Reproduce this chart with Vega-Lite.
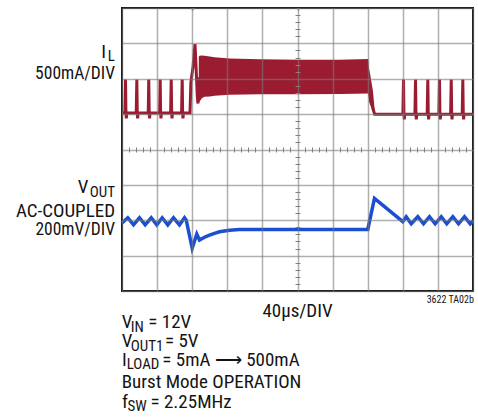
{
  "$schema": "https://vega.github.io/schema/vega-lite/v6.json",
  "width": 351,
  "height": 283,
  "autosize": {"type": "none"},
  "padding": {"left": 122, "top": 8, "right": 5, "bottom": 129},
  "background": "white",
  "config": {
    "view": {"stroke": "#111111", "strokeWidth": 2},
    "text": {"font": "Roboto Condensed, Liberation Sans, sans-serif", "fontSize": 19, "baseline": "alphabetic", "color": "#141414"}
  },
  "data": {"values": [{}]},
  "datasets": {
    "il": [
      {"t": 0, "v": 5.03}, {"t": 3.3, "v": 5.03}, {"t": 4.0, "v": 5.98}, {"t": 4.5, "v": 5.03}, {"t": 4.9, "v": 4.88}, {"t": 5.4, "v": 5.03},
      {"t": 16.2, "v": 5.03}, {"t": 16.9, "v": 5.98}, {"t": 17.4, "v": 5.03}, {"t": 17.8, "v": 4.88}, {"t": 18.3, "v": 5.03},
      {"t": 29.9, "v": 5.03}, {"t": 30.5, "v": 5.98}, {"t": 31.0, "v": 5.03}, {"t": 31.4, "v": 4.88}, {"t": 31.9, "v": 5.03},
      {"t": 42.9, "v": 5.03}, {"t": 43.5, "v": 5.98}, {"t": 44.0, "v": 5.03}, {"t": 44.4, "v": 4.88}, {"t": 44.9, "v": 5.03},
      {"t": 55.4, "v": 5.03}, {"t": 56.1, "v": 5.98}, {"t": 56.6, "v": 5.03}, {"t": 57.0, "v": 4.88}, {"t": 57.5, "v": 5.03},
      {"t": 67.9, "v": 5.03}, {"t": 68.6, "v": 5.98}, {"t": 69.1, "v": 5.03}, {"t": 69.5, "v": 4.88}, {"t": 70.0, "v": 5.03},
      {"t": 77.5, "v": 5.03}, {"t": 78.5, "v": 5.9}, {"t": 81.0, "v": 6.35}, {"t": 83.2, "v": 6.98}, {"t": 84.3, "v": 6.4}, {"t": 85.8, "v": 5.5}, {"t": 86.6, "v": 5.3}, {"t": 87.6, "v": 6.0},
      {"t": 150, "v": 6.0}, {"t": 279, "v": 6.0}, {"t": 282, "v": 5.6}, {"t": 286, "v": 5.15}, {"t": 288, "v": 5.0},
      {"t": 320.1, "v": 5.0}, {"t": 320.8, "v": 5.98}, {"t": 321.3, "v": 5.0}, {"t": 321.7, "v": 4.85}, {"t": 322.2, "v": 5.0},
      {"t": 333.8, "v": 5.0}, {"t": 334.5, "v": 5.98}, {"t": 335.0, "v": 5.0}, {"t": 335.4, "v": 4.85}, {"t": 335.9, "v": 5.0},
      {"t": 347.8, "v": 5.0}, {"t": 348.5, "v": 5.98}, {"t": 349.0, "v": 5.0}, {"t": 349.4, "v": 4.85}, {"t": 349.9, "v": 5.0},
      {"t": 361.1, "v": 5.0}, {"t": 361.8, "v": 5.98}, {"t": 362.3, "v": 5.0}, {"t": 362.7, "v": 4.85}, {"t": 363.2, "v": 5.0},
      {"t": 374.5, "v": 5.0}, {"t": 375.2, "v": 5.98}, {"t": 375.7, "v": 5.0}, {"t": 376.1, "v": 4.85}, {"t": 376.6, "v": 5.0},
      {"t": 387.7, "v": 5.0}, {"t": 388.4, "v": 5.98}, {"t": 388.9, "v": 5.0}, {"t": 389.3, "v": 4.85}, {"t": 389.8, "v": 5.0},
      {"t": 400, "v": 5.0}
    ],
    "band": [
      {"t": 87.5, "lo": 5.35, "hi": 6.62},
      {"t": 88.3, "lo": 5.35, "hi": 6.65},
      {"t": 91.0, "lo": 5.45, "hi": 6.66},
      {"t": 94.0, "lo": 5.49, "hi": 6.65},
      {"t": 100.0, "lo": 5.5, "hi": 6.63},
      {"t": 105.4, "lo": 5.52, "hi": 6.61},
      {"t": 122.5, "lo": 5.55, "hi": 6.57},
      {"t": 156.7, "lo": 5.56, "hi": 6.55},
      {"t": 202.3, "lo": 5.56, "hi": 6.54},
      {"t": 247.9, "lo": 5.57, "hi": 6.54},
      {"t": 280.7, "lo": 5.58, "hi": 6.56},
      {"t": 281.5, "lo": 5.35, "hi": 6.3},
      {"t": 283.0, "lo": 5.25, "hi": 6.1},
      {"t": 286.0, "lo": 5.1, "hi": 5.65},
      {"t": 288.0, "lo": 5.0, "hi": 5.1}
    ],
    "vout": [
      {"t": 0, "v": 1.92}, {"t": 6.6, "v": 2.07}, {"t": 13.1, "v": 1.87}, {"t": 19.9, "v": 2.07}, {"t": 26.4, "v": 1.87},
      {"t": 33.3, "v": 2.07}, {"t": 39.7, "v": 1.87}, {"t": 45.8, "v": 2.07}, {"t": 52.2, "v": 1.87}, {"t": 58.7, "v": 2.07},
      {"t": 65.5, "v": 1.87}, {"t": 71.2, "v": 2.07}, {"t": 73.2, "v": 2.0}, {"t": 80.0, "v": 1.21}, {"t": 85.2, "v": 1.61},
      {"t": 88.3, "v": 1.44}, {"t": 94.0, "v": 1.52}, {"t": 99.7, "v": 1.58}, {"t": 105.4, "v": 1.63}, {"t": 111.1, "v": 1.675},
      {"t": 122.5, "v": 1.72}, {"t": 133.9, "v": 1.74}, {"t": 280.1, "v": 1.74}, {"t": 287.7, "v": 2.62}, {"t": 320.0, "v": 1.96},
      {"t": 323.9, "v": 2.1}, {"t": 329.6, "v": 1.9}, {"t": 337.1, "v": 2.1}, {"t": 343.6, "v": 1.9}, {"t": 350.4, "v": 2.1},
      {"t": 356.9, "v": 1.9}, {"t": 363.8, "v": 2.1}, {"t": 370.1, "v": 1.9}, {"t": 377.0, "v": 2.1}, {"t": 383.5, "v": 1.9},
      {"t": 390.3, "v": 2.1}, {"t": 396.8, "v": 1.9}, {"t": 400, "v": 1.98}
    ]
  },
  "resolve": {"axis": {"x": "independent", "y": "independent"}},
  "layer": [
    {
      "data": {"name": "il"},
      "mark": {"type": "line", "color": "#9b1b31", "strokeWidth": 3, "strokeJoin": "miter"},
      "encoding": {
        "x": {"field": "t", "type": "quantitative", "scale": {"domain": [0, 400], "nice": false},
          "axis": {"orient": "bottom", "offset": -144, "values": [8,16,24,32,48,56,64,72,88,96,104,112,128,136,144,152,168,176,184,192,208,216,224,232,248,256,264,272,288,296,304,312,328,336,344,352,368,376,384,392],
            "ticks": true, "tickSize": 5, "tickColor": "#808080", "tickWidth": 1, "labels": false, "domain": false, "grid": false, "title": null, "zindex": 1}},
        "y": {"field": "v", "type": "quantitative", "scale": {"domain": [0, 8], "nice": false},
          "axis": {"orient": "left", "offset": -178, "values": [0.2,0.4,0.6,0.8,1.2,1.4,1.6,1.8,2.2,2.4,2.6,2.8,3.2,3.4,3.6,3.8,4.2,4.4,4.6,4.8,5.2,5.4,5.6,5.8,6.2,6.4,6.6,6.8,7.2,7.4,7.6,7.8],
            "ticks": true, "tickSize": 5, "tickColor": "#808080", "tickWidth": 1, "labels": false, "domain": false, "grid": false, "title": null, "zindex": 1}}
      }
    },
    {
      "data": {"name": "band"},
      "mark": {"type": "area", "color": "#9b1b31"},
      "encoding": {
        "x": {"field": "t", "type": "quantitative", "scale": {"domain": [0, 400], "nice": false},
          "axis": {"orient": "bottom", "values": [0,40,80,120,160,200,240,280,320,360,400], "grid": true, "gridColor": "#7a7a7a", "gridOpacity": 0.6, "gridWidth": 1.5,
            "ticks": false, "labels": false, "domain": false, "title": null, "zindex": 1}},
        "y": {"field": "hi", "type": "quantitative", "scale": {"domain": [0, 8], "nice": false},
          "axis": {"orient": "left", "values": [0,1,2,3,4,5,6,7,8], "grid": true, "gridColor": "#7a7a7a", "gridOpacity": 0.6, "gridWidth": 1.5,
            "ticks": false, "labels": false, "domain": false, "title": null, "zindex": 1}},
        "y2": {"field": "lo"}
      }
    },
    {
      "data": {"name": "vout"},
      "mark": {"type": "line", "color": "#1b4fd1", "strokeWidth": 3.5},
      "encoding": {
        "x": {"field": "t", "type": "quantitative", "axis": null},
        "y": {"field": "v", "type": "quantitative", "axis": null}
      }
    },
    {
      "mark": {"type": "point", "shape": "triangle-down", "filled": true, "color": "#d9822b", "size": 14},
      "encoding": {"x": {"datum": 80.6, "type": "quantitative", "axis": null}, "y": {"datum": 7.95, "type": "quantitative", "axis": null}}
    },
    {
      "mark": {"type": "point", "shape": "triangle-down", "filled": true, "color": "#d9822b", "size": 14},
      "encoding": {"x": {"datum": 201, "type": "quantitative", "axis": null}, "y": {"datum": 7.95, "type": "quantitative", "axis": null}}
    },
    {"mark": {"type": "text", "align": "right"}, "encoding": {"x": {"datum": -18.2, "type": "quantitative", "axis": null}, "y": {"datum": 6.58, "type": "quantitative", "axis": null}, "text": {"value": "I"}}},
    {"mark": {"type": "text", "align": "right", "fontSize": 15}, "encoding": {"x": {"datum": -8.0, "type": "quantitative", "axis": null}, "y": {"datum": 6.5, "type": "quantitative", "axis": null}, "text": {"value": "L"}}},
    {"mark": {"type": "text", "align": "right", "fontSize": 17.5}, "encoding": {"x": {"datum": -8.0, "type": "quantitative", "axis": null}, "y": {"datum": 5.985, "type": "quantitative", "axis": null}, "text": {"value": "500mA/DIV"}}},
    {"mark": {"type": "text", "align": "right"}, "encoding": {"x": {"datum": -38.2, "type": "quantitative", "axis": null}, "y": {"datum": 2.762, "type": "quantitative", "axis": null}, "text": {"value": "V"}}},
    {"mark": {"type": "text", "align": "right", "fontSize": 15}, "encoding": {"x": {"datum": -8.0, "type": "quantitative", "axis": null}, "y": {"datum": 2.666, "type": "quantitative", "axis": null}, "text": {"value": "OUT"}}},
    {"mark": {"type": "text", "align": "right"}, "encoding": {"x": {"datum": -8.0, "type": "quantitative", "axis": null}, "y": {"datum": 2.1, "type": "quantitative", "axis": null}, "text": {"value": "AC-COUPLED"}}},
    {"mark": {"type": "text", "align": "right", "fontSize": 17.5}, "encoding": {"x": {"datum": -8.0, "type": "quantitative", "axis": null}, "y": {"datum": 1.583, "type": "quantitative", "axis": null}, "text": {"value": "200mV/DIV"}}},
    {"mark": {"type": "text", "align": "center"}, "encoding": {"x": {"datum": 200, "type": "quantitative", "axis": null}, "y": {"datum": -0.735, "type": "quantitative", "axis": null}, "text": {"value": "40µs/DIV"}}},
    {"mark": {"type": "text", "align": "right", "fontSize": 10}, "encoding": {"x": {"datum": 401, "type": "quantitative", "axis": null}, "y": {"datum": -0.331, "type": "quantitative", "axis": null}, "text": {"value": "3622 TA02b"}}},
    {"mark": {"type": "text", "align": "left"}, "encoding": {"x": {"datum": -0.34, "type": "quantitative", "axis": null}, "y": {"datum": -1.06, "type": "quantitative", "axis": null}, "text": {"value": "V"}}},
    {"mark": {"type": "text", "align": "left", "fontSize": 15}, "encoding": {"x": {"datum": 10.0, "type": "quantitative", "axis": null}, "y": {"datum": -1.145, "type": "quantitative", "axis": null}, "text": {"value": "IN"}}},
    {"mark": {"type": "text", "align": "left"}, "encoding": {"x": {"datum": 30.0, "type": "quantitative", "axis": null}, "y": {"datum": -1.06, "type": "quantitative", "axis": null}, "text": {"value": "= 12V"}}},
    {"mark": {"type": "text", "align": "left"}, "encoding": {"x": {"datum": -0.34, "type": "quantitative", "axis": null}, "y": {"datum": -1.583, "type": "quantitative", "axis": null}, "text": {"value": "V"}}},
    {"mark": {"type": "text", "align": "left", "fontSize": 15}, "encoding": {"x": {"datum": 10.0, "type": "quantitative", "axis": null}, "y": {"datum": -1.682, "type": "quantitative", "axis": null}, "text": {"value": "OUT1"}}},
    {"mark": {"type": "text", "align": "left"}, "encoding": {"x": {"datum": 49.0, "type": "quantitative", "axis": null}, "y": {"datum": -1.583, "type": "quantitative", "axis": null}, "text": {"value": "= 5V"}}},
    {"mark": {"type": "text", "align": "left"}, "encoding": {"x": {"datum": 0, "type": "quantitative", "axis": null}, "y": {"datum": -2.12, "type": "quantitative", "axis": null}, "text": {"value": "I"}}},
    {"mark": {"type": "text", "align": "left", "fontSize": 15}, "encoding": {"x": {"datum": 5.3, "type": "quantitative", "axis": null}, "y": {"datum": -2.219, "type": "quantitative", "axis": null}, "text": {"value": "LOAD"}}},
    {"mark": {"type": "text", "align": "left"}, "encoding": {"x": {"datum": 46.0, "type": "quantitative", "axis": null}, "y": {"datum": -2.12, "type": "quantitative", "axis": null}, "text": {"value": "= 5mA ⟶ 500mA"}}},
    {"mark": {"type": "text", "align": "left"}, "encoding": {"x": {"datum": -0.34, "type": "quantitative", "axis": null}, "y": {"datum": -2.756, "type": "quantitative", "axis": null}, "text": {"value": "Burst Mode OPERATION"}}},
    {"mark": {"type": "text", "align": "left"}, "encoding": {"x": {"datum": 0, "type": "quantitative", "axis": null}, "y": {"datum": -3.307, "type": "quantitative", "axis": null}, "text": {"value": "f"}}},
    {"mark": {"type": "text", "align": "left", "fontSize": 15}, "encoding": {"x": {"datum": 6.2, "type": "quantitative", "axis": null}, "y": {"datum": -3.406, "type": "quantitative", "axis": null}, "text": {"value": "SW"}}},
    {"mark": {"type": "text", "align": "left"}, "encoding": {"x": {"datum": 32.5, "type": "quantitative", "axis": null}, "y": {"datum": -3.307, "type": "quantitative", "axis": null}, "text": {"value": "= 2.25MHz"}}}
  ]
}
